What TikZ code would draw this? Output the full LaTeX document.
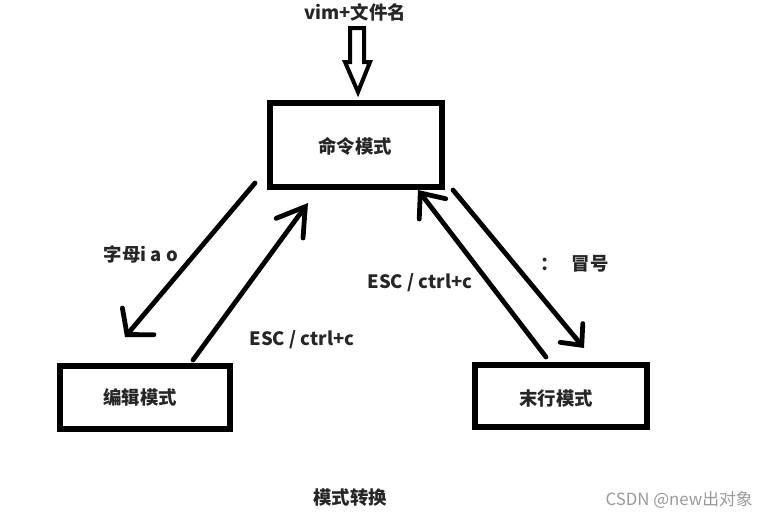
\documentclass[tikz,border=0pt]{standalone}
\usepackage{fontspec}
\setmainfont{Noto Sans CJK SC}
\usetikzlibrary{arrows.meta}
\definecolor{txt}{HTML}{262626}
\definecolor{wm}{HTML}{9A9A9A}
\tikzset{
  modebox/.style={draw=black, line width=4.5pt, fill=none, inner sep=0pt},
  lbl/.style={text=txt, font=\fontsize{13.8}{16}\selectfont\bfseries, inner sep=0pt},
  conn/.style={draw=black, line width=3.6pt, line cap=round, line join=round},
}
\begin{document}
\begin{tikzpicture}[x=0.75pt,y=-0.75pt]
\useasboundingbox (0,0) rectangle (769,519);
\fill[white] (0,0) rectangle (769,519);

% boxes
\node[modebox, minimum width=172*0.75pt, minimum height=84*0.75pt] (cmd) at (356,145) {};
\node[modebox, minimum width=170*0.75pt, minimum height=63*0.75pt] (edit) at (145,397.5) {};
\node[modebox, minimum width=172*0.75pt, minimum height=62*0.75pt] (last) at (561,396) {};

\node[lbl] (cmdt) at (355,146) {命令模式};
\node[lbl] (editt) at (140,397) {编辑模式};
\node[lbl] (lastt) at (556,398) {末行模式};

% title and hollow arrow
\node[lbl] (vim) at (355,12) {vim+文件名};
\draw[black, line width=3pt, line join=miter]
  (350,28) -- (364,28) -- (364,62) -- (370,62) -- (358,92) -- (345,62) -- (350,62) -- cycle;

% connector end points
\coordinate (a1s) at (255,183); \coordinate (a1e) at (125,337);
\coordinate (a2s) at (193,360); \coordinate (a2e) at (308,203);
\coordinate (a3s) at (546,357); \coordinate (a3e) at (418,190);
\coordinate (a4s) at (453,190); \coordinate (a4e) at (584,348);

\draw[conn, -{Straight Barb[length=13pt,width=31pt,line cap=round]}] (a1s) -- (a1e);
\draw[conn, -{Straight Barb[length=20pt,width=25pt,line cap=round]}] (a2s) -- (a2e);
\draw[conn, -{Straight Barb[length=15pt,width=25pt,line cap=round]}] (a3s) -- (a3e);
\draw[conn, -{Straight Barb[length=12pt,width=22pt,line cap=round]}] (a4s) -- (a4e);

% labels
\node[lbl] (l1) at (141,254) {字母i a o};
\node[lbl] (l2) at (302,340) {ESC / ctrl+c};
\node[lbl] (l3) at (420,283) {ESC / ctrl+c};
\node[lbl, anchor=west] (l4) at (540,264) {：\hspace{10pt}冒号};
\node[lbl] (title) at (350,498) {模式转换};
\node[text=wm, font=\fontsize{12.6}{15}\selectfont, inner sep=0pt, anchor=east] (wmk) at (753,500) {CSDN @new出对象};
\end{tikzpicture}
\end{document}
